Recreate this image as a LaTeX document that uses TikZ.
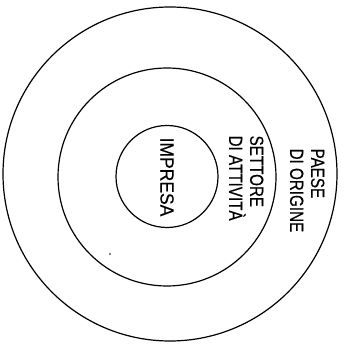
\documentclass[tikz,border=0pt]{standalone}
\usepackage{fontspec}
\setmainfont{Liberation Sans}
\newfontfamily\narrowsf[FakeStretch=0.8,FakeBold=0.4]{Liberation Sans}
\begin{document}
\begin{tikzpicture}[x=1pt,y=-1pt,line width=1.2pt,
  lbl/.style={rotate=-90,anchor=north west,align=left,inner sep=0pt,font=\narrowsf\fontsize{19}{21}\selectfont}]
\useasboundingbox (0,0) rectangle (345,344);
\draw (170,174) circle (167);
\draw (167,177) circle (109);
\draw (167,176.5) circle (51);
\node[lbl] (paese) at (325,148) {PAESE\\DI ORIGINE};
\node[lbl] (settore) at (264,135) {SETTORE\\DI ATTIVITÀ};
\node[lbl,anchor=center,xscale=1.15] (impresa) at (167,177) {IMPRESA};
\fill (110,254) circle (0.9);
\end{tikzpicture}
\end{document}
